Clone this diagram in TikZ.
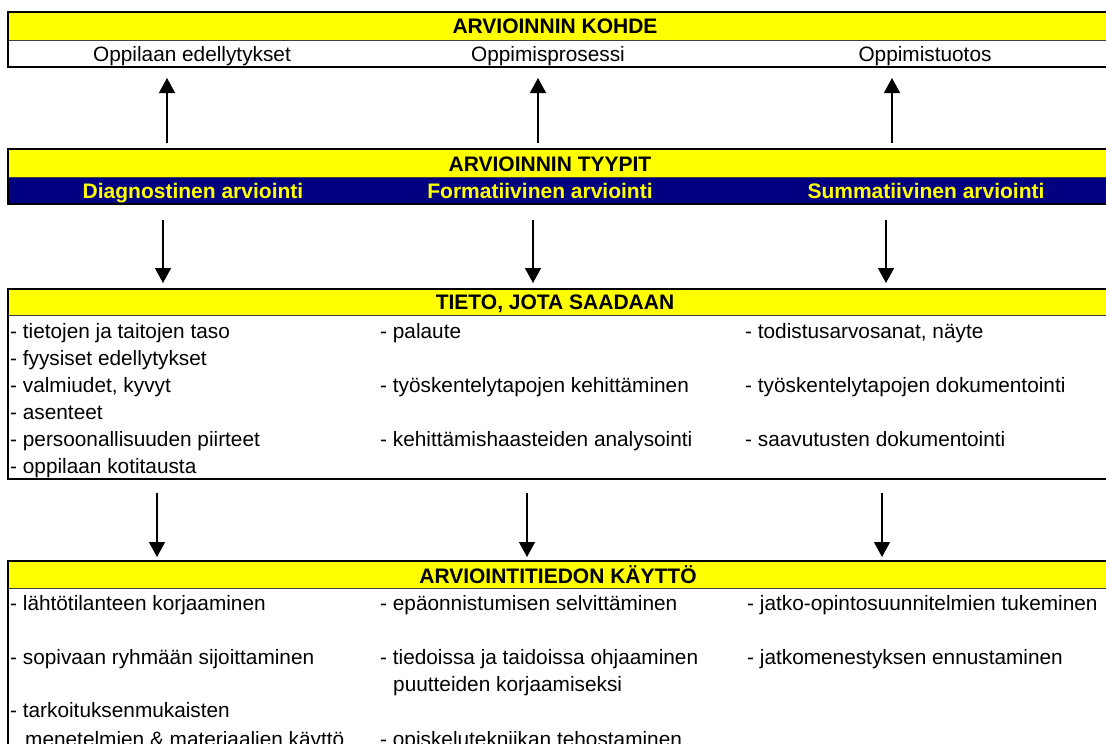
\documentclass[tikz,border=0pt]{standalone}
\usepackage{fontspec}
\setmainfont{Liberation Sans}
\usetikzlibrary{arrows.meta}
\definecolor{hdryellow}{HTML}{FFFF00}
\definecolor{hdrnavy}{HTML}{000080}
\begin{document}
\begin{tikzpicture}[x=1pt,y=-1pt,
  outer/.style={draw=black,line width=1.8pt},
  sep/.style={draw=black!75,line width=1pt},
  headtext/.style={font=\bfseries\fontsize{21}{25}\selectfont,anchor=base,inner sep=0pt},
  navytext/.style={font=\bfseries\fontsize{21}{25}\selectfont,text=hdryellow,anchor=base,inner sep=0pt},
  rowtext/.style={font=\fontsize{20.8}{25}\selectfont,anchor=base,inner sep=0pt},
  itemtext/.style={font=\fontsize{20.8}{25}\selectfont,anchor=base west,inner sep=0pt},
  arr/.style={-{Triangle[width=16pt,length=15pt]},line width=1.4pt}]
\clip (0,0) rectangle (1106,744);
\fill[white] (0,0) rectangle (1106,744);

% ---- box 1: ARVIOINNIN KOHDE
\fill[hdryellow] (8,12) rectangle (1120,40);
\draw[sep] (8,40) -- (1120,40);
\draw[outer] (8,12) rectangle (1120,67);
\node[headtext] (kohde) at (555,34) {ARVIOINNIN KOHDE};
\node[rowtext] (k1) at (192,61) {Oppilaan edellytykset};
\node[rowtext] (k2) at (548,61) {Oppimisprosessi};
\node[rowtext] (k3) at (925,61) {Oppimistuotos};

% ---- box 2: ARVIOINNIN TYYPIT
\fill[hdryellow] (8,149) rectangle (1120,177);
\fill[hdrnavy] (8,177) rectangle (1120,204);
\draw[sep] (8,177) -- (1120,177);
\draw[outer] (8,149) rectangle (1120,204);
\node[headtext] (tyypit) at (550,171) {ARVIOINNIN TYYPIT};
\node[navytext] (t1) at (193,198) {Diagnostinen arviointi};
\node[navytext] (t2) at (540,198) {Formatiivinen arviointi};
\node[navytext] (t3) at (926,198) {Summatiivinen arviointi};

% ---- box 3: TIETO, JOTA SAADAAN
\fill[hdryellow] (8,289) rectangle (1120,315);
\draw[sep] (8,315) -- (1120,315);
\draw[outer] (8,289) rectangle (1120,479);
\node[headtext] (tieto) at (555,309) {TIETO, JOTA SAADAAN};
\node[itemtext] (a1) at (10,338) {- tietojen ja taitojen taso};
\node[itemtext] (a2) at (10,365) {- fyysiset edellytykset};
\node[itemtext] (a3) at (10,392) {- valmiudet, kyvyt};
\node[itemtext] (a4) at (10,419) {- asenteet};
\node[itemtext] (a5) at (10,446) {- persoonallisuuden piirteet};
\node[itemtext] (a6) at (10,473) {- oppilaan kotitausta};
\node[itemtext] (b1) at (380,338) {- palaute};
\node[itemtext] (b3) at (380,392) {- työskentelytapojen kehittäminen};
\node[itemtext] (b5) at (380,446) {- kehittämishaasteiden analysointi};
\node[itemtext] (c1) at (745,338) {- todistusarvosanat, näyte};
\node[itemtext] (c3) at (745,392) {- työskentelytapojen dokumentointi};
\node[itemtext] (c5) at (745,446) {- saavutusten dokumentointi};

% ---- box 4: ARVIOINTITIEDON KÄYTTÖ
\fill[hdryellow] (8,561) rectangle (1120,588);
\draw[sep] (8,588) -- (1120,588);
\draw[outer] (8,561) rectangle (1120,800);
\node[headtext] (kaytto) at (558,583) {ARVIOINTITIEDON KÄYTTÖ};
\node[itemtext] (d1) at (10,610) {- lähtötilanteen korjaaminen};
\node[itemtext] (d2) at (10,664) {- sopivaan ryhmään sijoittaminen};
\node[itemtext] (d3) at (10,717) {- tarkoituksenmukaisten};
\node[itemtext] (d4) at (25,746) {menetelmien \& materiaalien käyttö};
\node[itemtext] (e1) at (380,610) {- epäonnistumisen selvittäminen};
\node[itemtext] (e2) at (380,664) {- tiedoissa ja taidoissa ohjaaminen};
\node[itemtext] (e3) at (393,691) {puutteiden korjaamiseksi};
\node[itemtext] (e4) at (380,746) {- opiskelutekniikan tehostaminen};
\node[itemtext] (f1) at (747,610) {- jatko-opintosuunnitelmien tukeminen};
\node[itemtext] (f2) at (747,664) {- jatkomenestyksen ennustaminen};

% ---- arrow end points
\coordinate (u1a) at (167,143); \coordinate (u1b) at (167,78);
\coordinate (u2a) at (538,143); \coordinate (u2b) at (538,78);
\coordinate (u3a) at (892,143); \coordinate (u3b) at (892,78);
\coordinate (m1a) at (163,220); \coordinate (m1b) at (163,283);
\coordinate (m2a) at (533,220); \coordinate (m2b) at (533,283);
\coordinate (m3a) at (886,220); \coordinate (m3b) at (886,283);
\coordinate (l1a) at (157,493); \coordinate (l1b) at (157,557);
\coordinate (l2a) at (527,493); \coordinate (l2b) at (527,557);
\coordinate (l3a) at (882,493); \coordinate (l3b) at (882,557);

\draw[arr] (u1a) -- (u1b);
\draw[arr] (u2a) -- (u2b);
\draw[arr] (u3a) -- (u3b);
\draw[arr] (m1a) -- (m1b);
\draw[arr] (m2a) -- (m2b);
\draw[arr] (m3a) -- (m3b);
\draw[arr] (l1a) -- (l1b);
\draw[arr] (l2a) -- (l2b);
\draw[arr] (l3a) -- (l3b);
\end{tikzpicture}
\end{document}
